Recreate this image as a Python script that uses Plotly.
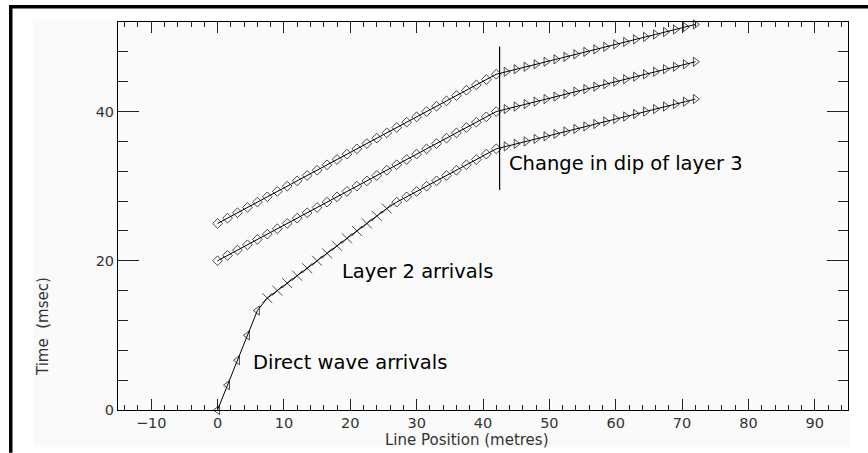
import plotly.graph_objects as go

# Geophone positions along the line (metres)
positions = [0, 1.5, 3, 4.5, 6, 7.5, 9, 10.5, 12, 13.5, 15, 16.5, 18, 19.5, 21, 22.5,
             24, 25.5, 27, 28.5, 30, 31.5, 33, 34.5, 36, 37.5, 39, 40.5, 42, 43.5, 45,
             46.5, 48, 49.5, 51, 52.5, 54, 55.5, 57, 58.5, 60, 61.5, 63, 64.5, 66, 67.5,
             69, 70.5, 72]

# First-arrival times (msec): direct wave, layer 2 head wave, layer 3 head wave
first_arrival = [0.0, 3.33, 6.67, 10.0, 13.33, 15.0, 16.0, 17.0, 18.0, 19.0, 20.0, 21.0,
                 22.0, 23.0, 24.0, 25.0, 26.0, 27.0, 27.86, 28.57, 29.29, 30.0, 30.71,
                 31.43, 32.14, 32.86, 33.57, 34.29, 35.0, 35.33, 35.67, 36.0, 36.33,
                 36.67, 37.0, 37.33, 37.67, 38.0, 38.33, 38.67, 39.0, 39.33, 39.67, 40.0,
                 40.33, 40.67, 41.0, 41.33, 41.67]

# Layer 3 arrival times for two later shots
shot_b = [20.0, 20.71, 21.43, 22.14, 22.86, 23.57, 24.29, 25.0, 25.71, 26.43, 27.14,
          27.86, 28.57, 29.29, 30.0, 30.71, 31.43, 32.14, 32.86, 33.57, 34.29, 35.0,
          35.71, 36.43, 37.14, 37.86, 38.57, 39.29, 40.0, 40.33, 40.67, 41.0, 41.33,
          41.67, 42.0, 42.33, 42.67, 43.0, 43.33, 43.67, 44.0, 44.33, 44.67, 45.0,
          45.33, 45.67, 46.0, 46.33, 46.67]
shot_c = [25.0, 25.71, 26.43, 27.14, 27.86, 28.57, 29.29, 30.0, 30.71, 31.43, 32.14,
          32.86, 33.57, 34.29, 35.0, 35.71, 36.43, 37.14, 37.86, 38.57, 39.29, 40.0,
          40.71, 41.43, 42.14, 42.86, 43.57, 44.29, 45.0, 45.33, 45.67, 46.0, 46.33,
          46.67, 47.0, 47.33, 47.67, 48.0, 48.33, 48.67, 49.0, 49.33, 49.67, 50.0,
          50.33, 50.67, 51.0, 51.33, 51.67]

# Arrival type at each geophone
first_kind = ["direct"] * 5 + ["layer2"] * 13 + ["layer3"] * 11 + ["dipped"] * 20
later_kind = ["layer3"] * 29 + ["dipped"] * 20

# Dip change marker
dip_x = 42.5
dip_t = [29.5, 48.7]

x_ticks = [-10, 0, 10, 20, 30, 40, 50, 60, 70, 80, 90]
y_ticks = [0, 20, 40]

symbol_for = {"direct": "triangle-left-open", "layer2": "x-thin-open",
              "layer3": "diamond-open", "dipped": "triangle-right-open"}
size_for = {"direct": 8, "layer2": 10, "layer3": 7.5, "dipped": 8}

fig = go.Figure()

for times, kinds in [(first_arrival, first_kind), (shot_b, later_kind), (shot_c, later_kind)]:
    fig.add_trace(go.Scatter(
        x=positions, y=times, mode="lines+markers",
        line=dict(color="black", width=1),
        marker=dict(symbol=[symbol_for[k] for k in kinds],
                    size=[size_for[k] for k in kinds],
                    color="black", line=dict(color="black", width=1)),
        cliponaxis=False, showlegend=False, hoverinfo="skip"))

fig.add_trace(go.Scatter(x=[dip_x, dip_x], y=dip_t, mode="lines",
                         line=dict(color="black", width=1.2),
                         showlegend=False, hoverinfo="skip"))

label_font = dict(family="DejaVu Sans", size=19.5, color="black")
fig.add_annotation(x=43.6, y=33.0, text="Change in dip of layer 3", showarrow=False,
                   xanchor="left", yanchor="middle", font=label_font)
fig.add_annotation(x=18.4, y=18.6, text="Layer 2 arrivals", showarrow=False,
                   xanchor="left", yanchor="middle", font=label_font)
fig.add_annotation(x=5.0, y=6.3, text="Direct wave arrivals", showarrow=False,
                   xanchor="left", yanchor="middle", font=label_font)

title_font = dict(family="DejaVu Sans", size=15, color="#333333")
fig.add_annotation(xref="paper", yref="paper", x=-0.1027, y=0.214,
                   text="Time\u00a0\u00a0(msec)", textangle=-90, showarrow=False,
                   xanchor="center", yanchor="middle", font=title_font)
fig.add_annotation(xref="paper", yref="paper", x=0.478, y=-0.0775,
                   text="Line Position (metres)", showarrow=False,
                   xanchor="center", yanchor="middle", font=title_font)

# Off-white panel and heavy frame edges (top and left)
fig.add_shape(type="rect", xref="paper", yref="paper", layer="below",
              x0=-0.1164, x1=1.0014, y0=-0.0954, y1=1.0052,
              fillcolor="#fafafa", line=dict(width=0))
fig.add_shape(type="rect", xref="paper", yref="paper", layer="above",
              x0=-0.1493, x1=-0.1445, y0=-0.11, y1=1.0438,
              fillcolor="black", line=dict(width=0))
fig.add_shape(type="rect", xref="paper", yref="paper", layer="above",
              x0=-0.1493, x1=1.0274, y0=1.0345, y1=1.0438,
              fillcolor="black", line=dict(width=0))

tick_font = dict(family="DejaVu Sans", size=14.5, color="#333333")
fig.update_xaxes(range=[-15, 95], tickvals=x_ticks, ticks="inside", ticklen=11,
                 tickwidth=1, tickcolor="#222222", showline=True, linecolor="black",
                 linewidth=1, mirror="ticks", showgrid=False, zeroline=False,
                 tickfont=tick_font,
                 minor=dict(dtick=2, tick0=0, ticks="inside", ticklen=5,
                            tickcolor="#222222", showgrid=False))
fig.update_yaxes(range=[0, 52], tickvals=y_ticks, ticks="inside", ticklen=21,
                 tickwidth=1, tickcolor="#222222", showline=True, linecolor="black",
                 linewidth=1, mirror="ticks", showgrid=False, zeroline=False,
                 tickfont=tick_font,
                 minor=dict(dtick=4, tick0=0, ticks="inside", ticklen=10,
                            tickcolor="#222222", showgrid=False))

fig.update_layout(width=868, height=453, margin=dict(l=118, r=20, t=22, b=43),
                  paper_bgcolor="white", plot_bgcolor="rgba(0,0,0,0)")

fig.write_html("out.html", config={"displayModeBar": False})
